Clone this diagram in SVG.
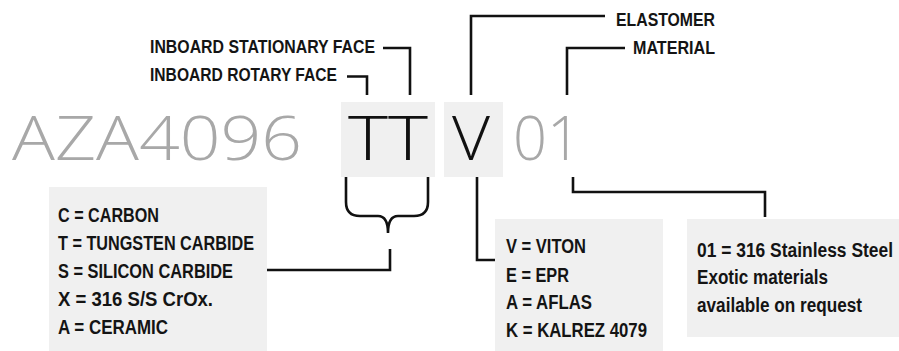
<svg xmlns="http://www.w3.org/2000/svg" width="899" height="351" viewBox="0 0 899 351">
<style>
.lbl{font-family:"Liberation Sans",Arial,sans-serif;font-weight:bold;font-size:19.5px;fill:#141414}
.hdr{font-size:18px}
.box{fill:#f0f0f0}
.big{font-family:"Open Sans","Liberation Sans",sans-serif;font-weight:300;font-size:61px}
.grey{fill:#a8a8a8}
.blk{fill:#111;font-weight:350}
.conn path{fill:none;stroke:#111;stroke-width:2.6}
</style>
<rect width="899" height="351" fill="#fff"/>
<g id="code">
<rect class="box" x="341" y="102" width="94" height="75"/>
<rect class="box" x="444" y="102" width="59" height="75"/>
<text class="big grey" x="12" y="160" textLength="290" lengthAdjust="spacingAndGlyphs">AZA4096</text>
<text class="big blk" x="348" y="160" textLength="80" lengthAdjust="spacingAndGlyphs">TT</text>
<text class="big blk" x="452" y="160" textLength="38" lengthAdjust="spacingAndGlyphs">V</text>
<text class="big grey" x="513" y="160" textLength="68" lengthAdjust="spacingAndGlyphs">01</text>
</g>
<g id="label-stationary"><text class="lbl hdr" x="150" y="53" textLength="225" lengthAdjust="spacingAndGlyphs">INBOARD STATIONARY FACE</text></g>
<g id="label-rotary"><text class="lbl hdr" x="150" y="80.5" textLength="187" lengthAdjust="spacingAndGlyphs">INBOARD ROTARY FACE</text></g>
<g id="label-elastomer"><text class="lbl hdr" x="616" y="26" textLength="99" lengthAdjust="spacingAndGlyphs">ELASTOMER</text></g>
<g id="label-material"><text class="lbl hdr" x="633" y="54" textLength="82" lengthAdjust="spacingAndGlyphs">MATERIAL</text></g>
<g id="box-faces">
<rect class="box" x="49" y="187" width="218" height="164"/>
<text class="lbl" x="58" y="221.5" textLength="101" lengthAdjust="spacingAndGlyphs">C = CARBON</text>
<text class="lbl" x="58" y="250" textLength="196" lengthAdjust="spacingAndGlyphs">T = TUNGSTEN CARBIDE</text>
<text class="lbl" x="58" y="278" textLength="175" lengthAdjust="spacingAndGlyphs">S = SILICON CARBIDE</text>
<text class="lbl" x="58" y="306" textLength="155" lengthAdjust="spacingAndGlyphs">X = 316 S/S CrOx.</text>
<text class="lbl" x="58" y="334" textLength="110" lengthAdjust="spacingAndGlyphs">A = CERAMIC</text>
</g>
<g id="box-elastomer">
<rect class="box" x="495" y="219" width="168" height="132"/>
<text class="lbl" x="506" y="253" textLength="80" lengthAdjust="spacingAndGlyphs">V = VITON</text>
<text class="lbl" x="506" y="281.5" textLength="63" lengthAdjust="spacingAndGlyphs">E = EPR</text>
<text class="lbl" x="506" y="309" textLength="86" lengthAdjust="spacingAndGlyphs">A = AFLAS</text>
<text class="lbl" x="506" y="337" textLength="141" lengthAdjust="spacingAndGlyphs">K = KALREZ 4079</text>
</g>
<g id="box-material">
<rect class="box" x="687" y="219" width="212" height="118"/>
<text class="lbl" x="697" y="256.5" textLength="196" lengthAdjust="spacingAndGlyphs">01 = 316 Stainless Steel</text>
<text class="lbl" x="697" y="284" textLength="131" lengthAdjust="spacingAndGlyphs">Exotic materials</text>
<text class="lbl" x="697" y="312" textLength="165" lengthAdjust="spacingAndGlyphs">available on request</text>
</g>
<g id="connectors" class="conn">
<path d="M383,48 H410 V95"/>
<path d="M347,76.5 H367 V95"/>
<path d="M605,16 H471 V95"/>
<path d="M625,48 H567 V95"/>
<path d="M346,177 V202 Q346,216 360,216 H378 Q388,216 388,233 Q388,216 398,216 H414 Q428,216 428,202 V177"/>
<path d="M267,270 H390 V249"/>
<path d="M477,177 V260 H495"/>
<path d="M573,177 V192 H765 V217"/>
</g>
</svg>
